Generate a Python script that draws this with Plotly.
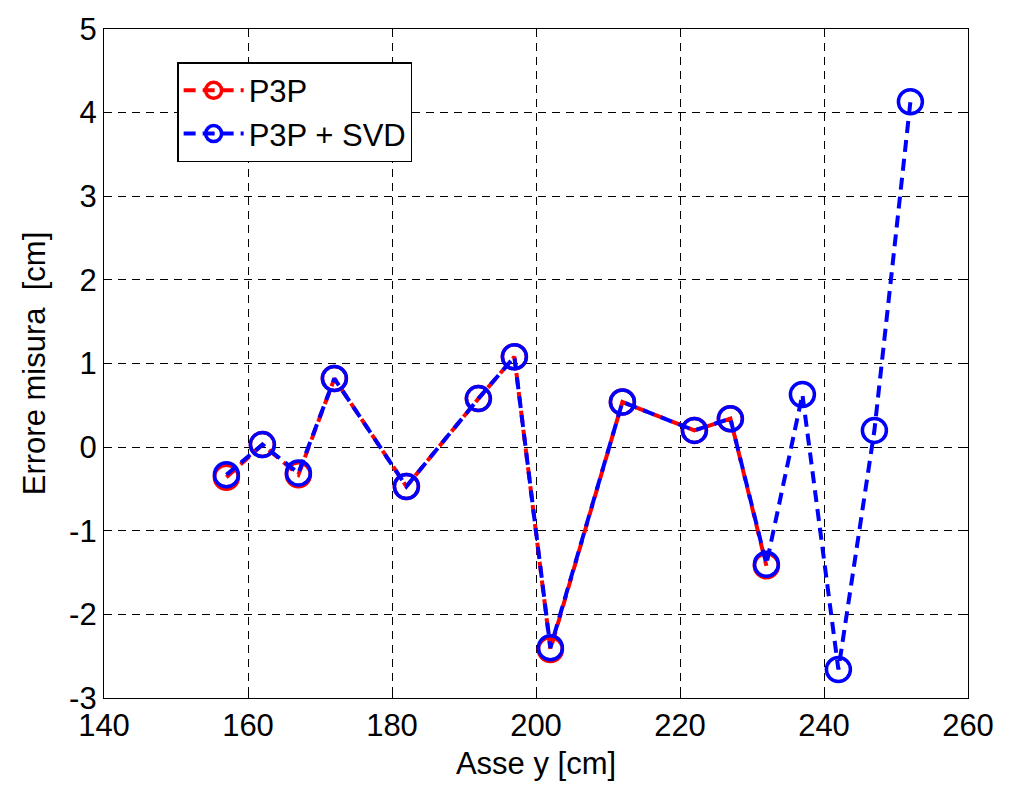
import plotly.graph_objects as go

# Measurement positions along the y axis [cm]
x_p3p = [157, 162, 167, 172, 182, 192, 197, 202, 212, 222, 227, 232]
x_svd = [157, 162, 167, 172, 182, 192, 197, 202, 212, 222, 227, 232, 237, 242, 247, 252]

# Measurement error [cm]
err_p3p = [-0.36, 0.03, -0.33, 0.82, -0.47, 0.58, 1.08, -2.42, 0.54, 0.20, 0.34, -1.42]
err_svd = [-0.33, 0.03, -0.31, 0.82, -0.47, 0.58, 1.08, -2.40, 0.54, 0.20, 0.34, -1.40,
           0.63, -2.66, 0.20, 4.13]

x_ticks = [140, 160, 180, 200, 220, 240, 260]
y_ticks = [-3, -2, -1, 0, 1, 2, 3, 4, 5]
y_tick_labels = ["-3", "-2", "-1", "0", "1", "2", "3", "4", "5"]

FONT = "Liberation Sans, Arial, sans-serif"

fig = go.Figure()
fig.add_trace(go.Scatter(
    x=x_p3p, y=err_p3p, name="P3P", mode="lines+markers",
    line=dict(color="#ff0000", width=4, dash="12px,7px"),
    marker=dict(symbol="circle-open", size=24, color="#ff0000", line=dict(width=3.5, color="#ff0000")),
))
fig.add_trace(go.Scatter(
    x=x_svd, y=err_svd, name="P3P + SVD", mode="lines+markers",
    line=dict(color="#0000ff", width=4, dash="12px,7px"),
    marker=dict(symbol="circle-open", size=24, color="#0000ff", line=dict(width=3.5, color="#0000ff")),
))

axis_common = dict(
    showline=True, linecolor="black", linewidth=1.2, mirror="ticks",
    ticks="inside", ticklen=8, tickcolor="black",
    showgrid=True, gridcolor="black", gridwidth=1, griddash="8px,6px",
    zeroline=False, tickfont=dict(family=FONT, size=31, color="black"),
)

fig.update_layout(
    width=1013, height=798,
    margin=dict(l=104, r=45, t=26, b=100),
    paper_bgcolor="white", plot_bgcolor="white",
    font=dict(family=FONT, color="black"),
    xaxis=dict(range=[140, 260], tickvals=x_ticks,
               title=dict(text="Asse y [cm]", font=dict(family=FONT, size=31), standoff=10),
               **axis_common),
    yaxis=dict(range=[-3, 5], tickvals=y_ticks, ticktext=y_tick_labels,
               title=dict(text="Errore misura  [cm]", font=dict(family=FONT, size=31), standoff=14),
               **axis_common),
    legend=dict(
        x=0.085, y=0.95, xanchor="left", yanchor="top",
        bgcolor="white", bordercolor="black", borderwidth=1.2,
        font=dict(family=FONT, size=31, color="black"),
        itemwidth=60, tracegroupgap=0,
    ),
)

fig.write_html("out.html")
